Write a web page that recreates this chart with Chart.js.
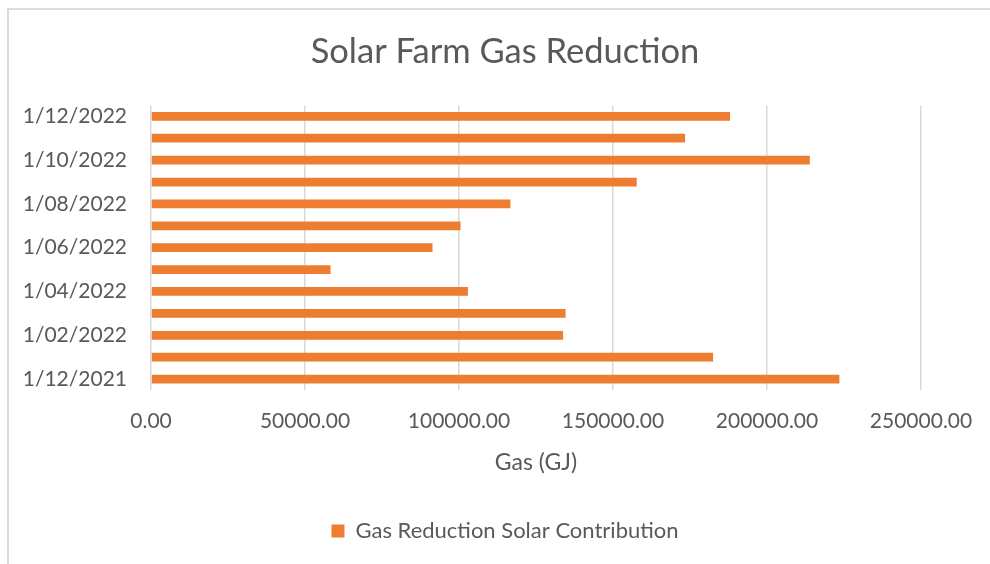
<!DOCTYPE html>
<html>
<head>
<meta charset="utf-8">
<title>Solar Farm Gas Reduction</title>
<script src="https://cdn.jsdelivr.net/npm/chart.js@4.4.1/dist/chart.umd.min.js"></script>
<style>
  html, body { margin: 0; padding: 0; background: #ffffff; overflow: hidden; }
  #wrap { position: relative; width: 990px; height: 564px; overflow: hidden; }
  #frame { position: absolute; left: 7px; top: 8px; width: 1000px; height: 600px;
           border-left: 2px solid #dcdcdc; border-top: 2px solid #dcdcdc; }
  #myChart { position: absolute; left: 0; top: 0; }
</style>
</head>
<body>
<div id="wrap">
  <div id="frame"></div>
  <!-- canvas is a bit wider than the window so the title/legend centre lines up -->
  <canvas id="myChart" width="1010" height="564"></canvas>
</div>
<script>
// months, oldest first (drawn bottom to top)
let months = ['1/12/2021', '1/01/2022', '1/02/2022', '1/03/2022', '1/04/2022', '1/05/2022',
  '1/06/2022', '1/07/2022', '1/08/2022', '1/09/2022', '1/10/2022', '1/11/2022', '1/12/2022']

// gas reduction (GJ)
let gasReduction = [223500, 182500, 133800, 134600, 102900, 58300,
  91400, 100500, 116700, 157700, 213900, 173400, 188000]

let seriesName = 'Gas Reduction Solar Contribution'
let chartTitle = 'Solar Farm Gas Reduction'
let axisTitle = 'Gas (GJ)'
let xMax = 250000
let xStep = 50000

let textColor = '#595959'
let gridColor = '#d9d9d9'
let font = 'Lato'

var ctx = document.getElementById('myChart').getContext('2d')

var chart = new Chart(ctx, {
  type: 'bar',
  data: {
    labels: months,
    datasets: [{
      label: seriesName,
      data: gasReduction,
      backgroundColor: '#ED7D31',
      borderWidth: 0,
      barPercentage: 0.4,
      categoryPercentage: 1.0
    }]
  },
  options: {
    indexAxis: 'y',
    responsive: false,
    animation: false,
    layout: {
      padding: { left: 0, right: 0, top: 12, bottom: 12 }
    },
    plugins: {
      title: {
        display: true,
        text: chartTitle,
        color: textColor,
        font: { family: font, size: 34.5, weight: 'normal' },
        padding: { top: 19, bottom: 33 }
      },
      legend: {
        display: true,
        position: 'bottom',
        labels: {
          color: textColor,
          font: { family: font, size: 22 },
          boxWidth: 13,
          boxHeight: 13,
          padding: 10
        }
      },
      tooltip: { enabled: false }
    },
    scales: {
      x: {
        min: 0,
        max: xMax,
        ticks: {
          stepSize: xStep,
          color: textColor,
          font: { family: font, size: 21 },
          padding: 19,
          maxRotation: 0,
          callback: v => v.toFixed(2)
        },
        grid: { color: gridColor, lineWidth: 1.5, drawTicks: false },
        border: { display: false },
        title: {
          display: true,
          text: axisTitle,
          color: textColor,
          font: { family: font, size: 23 },
          padding: { top: 0, bottom: 34 }
        },
        afterFit: scale => { scale.height = 120 }
      },
      y: {
        reverse: true,
        ticks: {
          color: textColor,
          font: { family: font, size: 21 },
          padding: 24,
          autoSkip: false,
          // only every other month gets a label
          callback: function (v, i) { return i % 2 === 0 ? this.getLabelForValue(v) : '' }
        },
        grid: { display: false, drawTicks: false },
        border: { display: false },
        afterFit: scale => { scale.width = 151 }
      },
      // empty spacer on the right, keeps the plot right edge at 921
      spacer: {
        type: 'category',
        axis: 'y',
        position: 'right',
        ticks: { display: false },
        grid: { display: false, drawTicks: false },
        border: { display: false },
        afterFit: scale => { scale.width = 89 }
      }
    }
  }
})
</script>
</body>
</html>
